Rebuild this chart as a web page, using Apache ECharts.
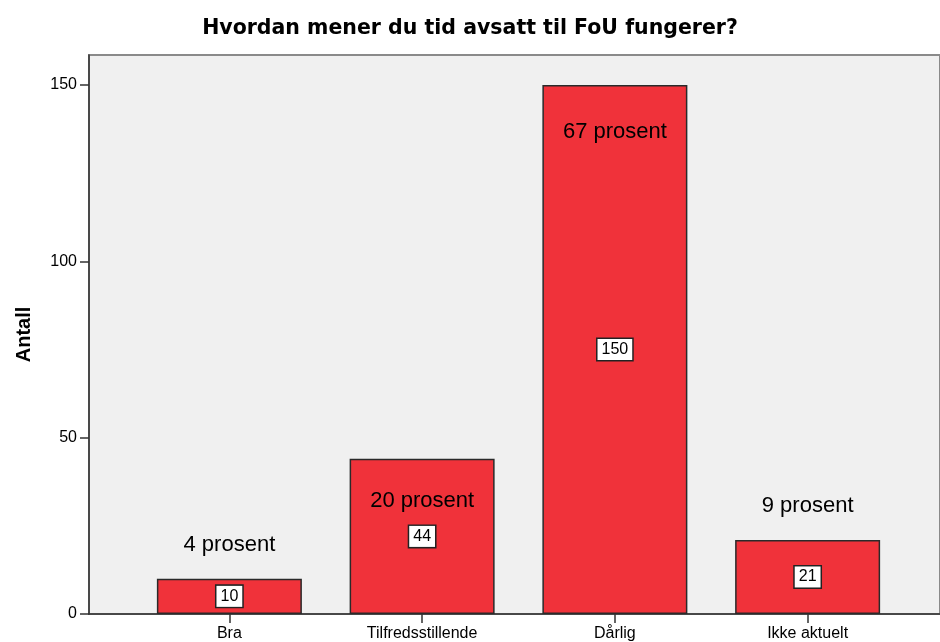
<!DOCTYPE html>
<html><head><meta charset="utf-8">
<script src="https://cdn.jsdelivr.net/npm/echarts@6/dist/echarts.min.js"></script>
<style>html,body{margin:0;padding:0;background:#fff}#c{width:940px;height:642px}</style>
</head><body><div id="c"></div>
<script>
const categories = ['Bra', 'Tilfredsstillende', 'Dårlig', 'Ikke aktuelt'];
const counts = [10, 44, 150, 21];
const percentLabels = ['4 prosent', '20 prosent', '67 prosent', '9 prosent'];
const yTicks = [0, 50, 100, 150];

const FONT = '"Liberation Sans", Arial, sans-serif';
const YMAX = 158.5;
const chart = echarts.init(document.getElementById('c'));

const pctData = counts.map((v, i) => {
  const inside = v > 30;
  return {
    value: v,
    label: inside
      ? { position: 'insideTop', distance: v > 100 ? 36 : 31 }
      : { position: 'top', distance: 23 }
  };
});

chart.setOption({
  animation: false,
  title: {
    text: 'Hvordan mener du tid avsatt til FoU fungerer?',
    left: 'center', top: 13,
    textStyle: { fontFamily: '"DejaVu Sans", sans-serif', fontSize: 20.5, fontWeight: 'bold', color: '#000' }
  },
  grid: [
    { left: 89, right: 0, top: 55, bottom: 28, show: true, backgroundColor: '#F0F0F0', borderColor: '#8a8a8a', borderWidth: 2 },
    { left: 133, right: 36, top: 55, bottom: 28 }
  ],
  xAxis: [
    { gridIndex: 0, type: 'value', min: 0, max: 1, axisLine: { show: true, onZero: false, lineStyle: { color: '#333', width: 1.5 } },
      axisTick: { show: false }, axisLabel: { show: false }, splitLine: { show: false } },
    { gridIndex: 1, type: 'category', data: categories, axisLine: { show: false },
      axisTick: { show: true, alignWithLabel: true, length: 9, lineStyle: { color: '#333', width: 1.5 } },
      axisLabel: { fontFamily: FONT, fontSize: 16, color: '#000', margin: 12 } }
  ],
  yAxis: [
    { gridIndex: 0, type: 'value', min: 0, max: YMAX, interval: 50,
      name: 'Antall', nameLocation: 'middle', nameGap: 55, nameRotate: 90,
      nameTextStyle: { fontFamily: FONT, fontSize: 20, fontWeight: 'bold', color: '#000' },
      axisLine: { show: true, lineStyle: { color: '#333', width: 1.5 } },
      axisTick: { show: true, length: 9, lineStyle: { color: '#333', width: 1.5 },
        customValues: yTicks },
      axisLabel: { fontFamily: FONT, fontSize: 16, color: '#000', margin: 12, customValues: yTicks },
      splitLine: { show: false } },
    { gridIndex: 1, type: 'value', min: 0, max: YMAX, show: false }
  ],
  series: [
    { type: 'bar', xAxisIndex: 1, yAxisIndex: 1, data: counts, barWidth: 145, barGap: '-100%',
      itemStyle: { color: '#F0323A', borderColor: '#2a2a2a', borderWidth: 1.5 },
      label: { show: true, position: 'inside', formatter: '{c}', fontFamily: FONT, fontSize: 16, color: '#000',
        backgroundColor: '#fff', borderColor: '#222', borderWidth: 1.5, padding: [3, 4, 2, 4] } },
    { type: 'bar', xAxisIndex: 1, yAxisIndex: 1, data: pctData, barWidth: 145, barGap: '-100%',
      itemStyle: { color: 'rgba(0,0,0,0)' }, silent: true,
      label: { show: true, formatter: (p) => percentLabels[p.dataIndex], fontFamily: FONT, fontSize: 22, color: '#000' } }
  ]
});
</script></body></html>
